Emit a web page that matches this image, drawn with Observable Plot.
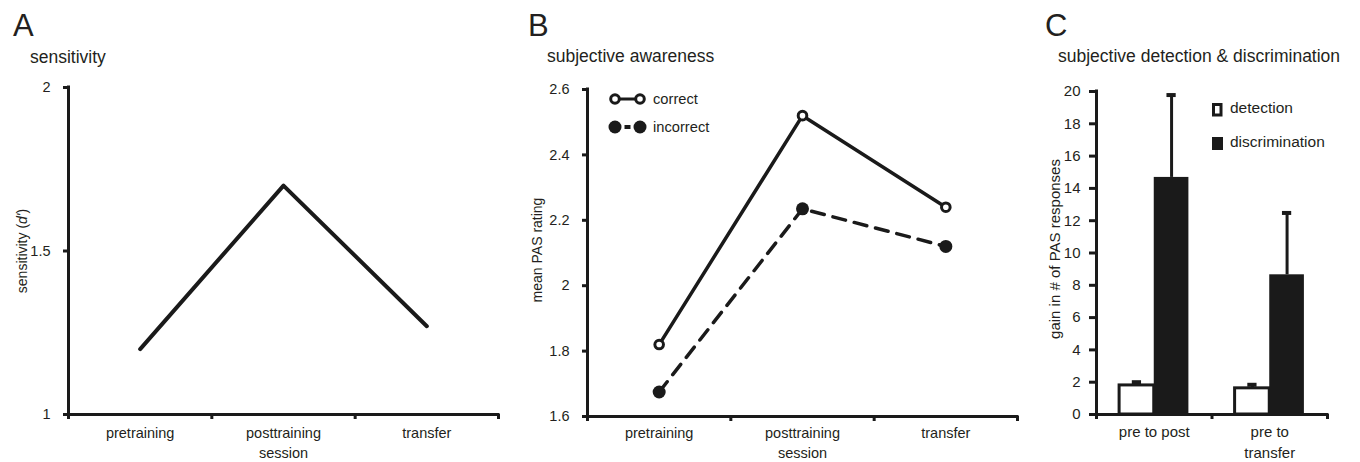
<!DOCTYPE html>
<html><head><meta charset="utf-8">
<script src="https://cdn.jsdelivr.net/npm/d3@7"></script>
<script src="https://cdn.jsdelivr.net/npm/@observablehq/plot@0.6"></script>
<style>
html,body{margin:0;padding:0;background:#fff;}
#wrap{position:relative;width:1360px;height:462px;overflow:hidden;font-family:"Liberation Sans",Arial,sans-serif;color:#231f20;}
#wrap > svg{position:absolute;left:0;top:0;}
</style></head><body><div id="wrap"></div>
<script>
// ---- data ----
const sessions = ["pretraining", "posttraining", "transfer"];
const sessionLabels = ["pretraining", "posttraining\nsession", "transfer"];
const sensitivity = [1.20, 1.70, 1.27];
const sensTicks = [1, 1.5, 2];
const pasCorrect = [1.82, 2.52, 2.24];
const pasIncorrect = [1.675, 2.235, 2.12];
const pasTicks = [1.6, 1.8, 2, 2.2, 2.4, 2.6];
const comparisons = ["pre to post", "pre to\ntransfer"];
const detection = [1.8, 1.62];
const detectionErr = [0.2, 0.22];
const discrimination = [14.68, 8.65];
const discriminationErr = [5.1, 3.83];
const gainTicks = [0, 2, 4, 6, 8, 10, 12, 14, 16, 18, 20];

// ---- style ----
const W = 1360, H = 462, INK = "#1a1a1a", TXT = "#231f20";
const FONT = '"Liberation Sans", Arial, sans-serif';
const wrap = document.getElementById("wrap");
function base(fs) {
  return {width: W, height: H, style: {background: "transparent", overflow: "visible", fontFamily: FONT, color: TXT, fontSize: fs}};
}
function frameMarks(x0, y0) {
  return [
    Plot.ruleX([x0], {stroke: INK, strokeWidth: 3, strokeLinecap: "square"}),
    Plot.ruleY([y0], {stroke: INK, strokeWidth: 3, strokeLinecap: "square"})
  ];
}

// ---- panel A ----
const dataA = sessions.map((s, i) => ({i, s, v: sensitivity[i], label: sessionLabels[i]}));
wrap.append(Plot.plot({
  ...base("14.5px"),
  marginLeft: 68, marginRight: W - 498, marginTop: 87, marginBottom: 48,
  x: {type: "linear", domain: [0, sessions.length]},
  y: {domain: [1, 2]},
  marks: [
    Plot.axisY({ticks: sensTicks, tickSize: 5, tickPadding: 13, stroke: INK, strokeWidth: 3, label: null, tickFormat: d => String(d)}),
    Plot.axisX({ticks: d3.range(sessions.length + 1), tickSize: 5, tickFormat: () => "", stroke: INK, strokeWidth: 3, label: null}),
    ...frameMarks(0, 1),
    Plot.line(dataA, {x: d => d.i + 0.5, y: "v", stroke: INK, strokeWidth: 4, strokeLinecap: "round", strokeLinejoin: "round"}),
    Plot.text(dataA, {x: d => d.i + 0.5, y: 1, text: "label", lineAnchor: "top", dy: 10, lineHeight: 1.35, fill: TXT})
  ]
}));

// ---- panel B ----
const dataB = sessions.map((s, i) => ({i, s, c: pasCorrect[i], w: pasIncorrect[i], label: sessionLabels[i]}));
wrap.append(Plot.plot({
  ...base("14.5px"),
  marginLeft: 587, marginRight: W - 1017, marginTop: 89, marginBottom: 46,
  x: {type: "linear", domain: [0, sessions.length]},
  y: {domain: [1.6, 2.6]},
  marks: [
    Plot.axisY({ticks: pasTicks, tickSize: 5, tickPadding: 13, stroke: INK, strokeWidth: 3, label: null, tickFormat: d => String(d)}),
    Plot.axisX({ticks: d3.range(sessions.length + 1), tickSize: 5, tickFormat: () => "", stroke: INK, strokeWidth: 3, label: null}),
    ...frameMarks(0, 1.6),
    Plot.line(dataB, {x: d => d.i + 0.5, y: "c", stroke: INK, strokeWidth: 3.5, strokeLinejoin: "round"}),
    Plot.line(dataB, {x: d => d.i + 0.5, y: "w", stroke: INK, strokeWidth: 3.5, strokeDasharray: "13,9"}),
    Plot.dot(dataB, {x: d => d.i + 0.5, y: "c", r: 4.3, fill: "white", stroke: INK, strokeWidth: 3}),
    Plot.dot(dataB, {x: d => d.i + 0.5, y: "w", r: 6.5, fill: INK, stroke: "none"}),
    Plot.text(dataB, {x: d => d.i + 0.5, y: 1.6, text: "label", lineAnchor: "top", dy: 8, lineHeight: 1.35, fill: TXT})
  ]
}));

// ---- panel C ----
const INSET = 0.2, CAP = 0.04;
const dataC = comparisons.map((g, i) => ({i, g, det: detection[i], detE: detectionErr[i], dis: discrimination[i], disE: discriminationErr[i]}));
wrap.append(Plot.plot({
  ...base("15px"),
  marginLeft: 1096, marginRight: W - 1327, marginTop: 91, marginBottom: 48,
  x: {type: "linear", domain: [0, comparisons.length]},
  y: {domain: [0, 20]},
  marks: [
    Plot.axisY({ticks: gainTicks, tickSize: 7, tickPadding: 9, stroke: INK, strokeWidth: 3, label: null}),
    Plot.axisX({ticks: d3.range(comparisons.length + 1), tickSize: 5, tickFormat: () => "", stroke: INK, strokeWidth: 3, label: null}),
    // error bars
    Plot.ruleX(dataC, {x: d => d.i + (INSET + 0.5) / 2, y1: "det", y2: d => d.det + d.detE, stroke: INK, strokeWidth: 3}),
    Plot.ruleY(dataC, {y: d => d.det + d.detE, x1: d => d.i + (INSET + 0.5) / 2 - CAP, x2: d => d.i + (INSET + 0.5) / 2 + CAP, stroke: INK, strokeWidth: 4}),
    Plot.ruleX(dataC, {x: d => d.i + (0.5 + 1 - INSET) / 2, y1: "dis", y2: d => d.dis + d.disE, stroke: INK, strokeWidth: 3}),
    Plot.ruleY(dataC, {y: d => d.dis + d.disE, x1: d => d.i + (0.5 + 1 - INSET) / 2 - CAP, x2: d => d.i + (0.5 + 1 - INSET) / 2 + CAP, stroke: INK, strokeWidth: 4}),
    // bars
    Plot.rectY(dataC, {x1: d => d.i + INSET, x2: d => d.i + 0.5, y: "det", fill: "white", stroke: INK, strokeWidth: 3}),
    Plot.rectY(dataC, {x1: d => d.i + 0.5, x2: d => d.i + 1 - INSET, y: "dis", fill: INK}),
    ...frameMarks(0, 0),
    Plot.text(dataC, {x: d => d.i + 0.5, y: 0, text: "g", lineAnchor: "top", dy: 8, lineHeight: 1.4, fill: TXT})
  ]
}));

// ---- annotations: panel letters, titles, axis titles, legends ----
const ov = d3.select(wrap).append("svg").attr("width", W).attr("height", H)
  .style("font-family", FONT).style("overflow", "visible");
function txt(x, y, s, fs) {
  return ov.append("text").attr("x", x).attr("y", y).attr("font-size", fs).attr("fill", TXT).text(s);
}
const letters = [["A", 13], ["B", 528], ["C", 1045]];
letters.forEach(([l, x]) => txt(x, 36, l, 31));
const titles = [["sensitivity", 30, 63], ["subjective awareness", 547, 62], ["subjective detection & discrimination", 1058, 62]];
titles.forEach(([s, x, y]) => txt(x, y, s, 17.5));

function ylab(cx, cy, fs, build) {
  const t = ov.append("text").attr("transform", `translate(${cx},${cy}) rotate(-90)`)
    .attr("text-anchor", "middle").attr("dy", "0.35em").attr("font-size", fs).attr("fill", TXT);
  build(t);
}
ylab(22, 251, 14, t => { t.append("tspan").text("sensitivity ("); t.append("tspan").attr("font-style", "italic").text("d'"); t.append("tspan").text(")"); });
ylab(537, 250, 14, t => t.text("mean PAS rating"));
ylab(1055, 249, 15, t => t.text("gain in # of PAS responses"));

// legend B
ov.append("line").attr("x1", 615).attr("x2", 640).attr("y1", 99).attr("y2", 99).attr("stroke", INK).attr("stroke-width", 3);
[615, 640].forEach(x => ov.append("circle").attr("cx", x).attr("cy", 99).attr("r", 4.3).attr("fill", "white").attr("stroke", INK).attr("stroke-width", 3));
ov.append("line").attr("x1", 624.5).attr("x2", 630.5).attr("y1", 127).attr("y2", 127).attr("stroke", INK).attr("stroke-width", 4);
[615, 640].forEach(x => ov.append("circle").attr("cx", x).attr("cy", 127).attr("r", 6.5).attr("fill", INK));
txt(653, 104, "correct", 14.7);
txt(653, 132, "incorrect", 14.7);

// legend C
ov.append("rect").attr("x", 1213.5).attr("y", 104.5).attr("width", 7.5).attr("height", 10.5).attr("fill", "white").attr("stroke", INK).attr("stroke-width", 3);
ov.append("rect").attr("x", 1212).attr("y", 137).attr("width", 11).attr("height", 13).attr("fill", INK);
txt(1230, 113, "detection", 15.5);
txt(1230, 147, "discrimination", 15.5);
</script></body></html>
